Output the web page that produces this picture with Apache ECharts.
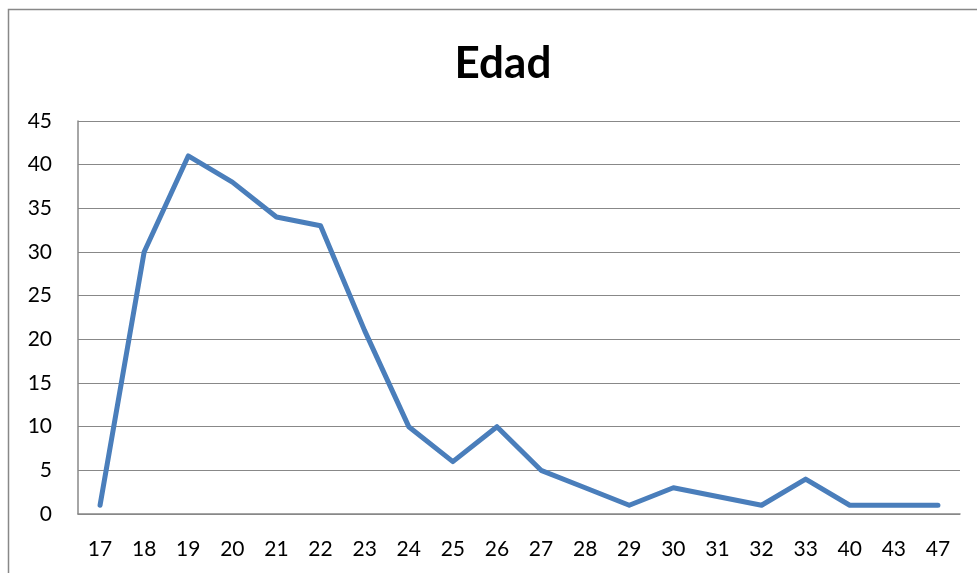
<!DOCTYPE html>
<html>
<head>
<meta charset="utf-8">
<script src="https://cdn.jsdelivr.net/npm/echarts@6/dist/echarts.min.js"></script>
<style>
    * { margin: 0; padding: 0; }
    body { background: #fff; }
    #edad { width: 977px; height: 573px; }
</style>
</head>
<body>
<div id="edad"></div>
<script>
    // edades y número de personas
    var ages = ['17', '18', '19', '20', '21', '22', '23', '24', '25', '26',
                '27', '28', '29', '30', '31', '32', '33', '40', '43', '47'];
    var counts = [1, 30, 41, 38, 34, 33, 21, 10, 6, 10,
                  5, 3, 1, 3, 2, 1, 4, 1, 1, 1];
    var yMin = 0, yMax = 45, yStep = 5;

    var myChart = echarts.init(document.getElementById('edad'));
    var option = {
        animation: false,
        textStyle: { fontFamily: 'Lato' },
        title: {
            text: 'Edad',
            left: 498,
            top: 37,
            textAlign: 'center',
            textStyle: { fontFamily: 'Lato', fontWeight: 'bold', fontSize: 44, color: '#000' }
        },
        // marco exterior del gráfico
        graphic: [{
            type: 'rect',
            shape: { x: 8.5, y: 9.5, width: 1000, height: 600 },
            style: { fill: 'none', stroke: '#888', lineWidth: 1.5 },
            silent: true
        }],
        grid: { left: 78, right: 17, top: 121, bottom: 59 },
        xAxis: {
            type: 'category',
            data: ages,
            boundaryGap: true,
            axisLine: { lineStyle: { color: '#888', width: 1.5 } },
            axisTick: { show: false },
            axisLabel: { color: '#000', fontSize: 21, margin: 25 }
        },
        yAxis: {
            type: 'value',
            min: yMin,
            max: yMax,
            interval: yStep,
            axisLine: { show: true, lineStyle: { color: '#888', width: 1.5 } },
            axisTick: { show: false },
            axisLabel: { color: '#000', fontSize: 21, margin: 26 },
            splitLine: { lineStyle: { color: '#888', width: 1.2 } }
        },
        series: [{
            type: 'line',
            data: counts,
            showSymbol: false,
            symbol: 'none',
            lineStyle: { color: '#4a7ebb', width: 5, cap: 'round', join: 'round' }
        }]
    };
    myChart.setOption(option);
</script>
</body>
</html>
